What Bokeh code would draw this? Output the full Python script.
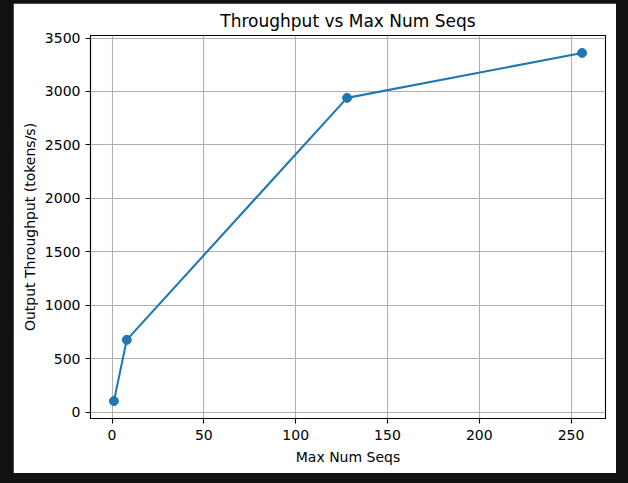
from bokeh.plotting import figure
from bokeh.models import Range1d, FixedTicker, ColumnDataSource, GlobalInlineStyleSheet
from bokeh.embed import file_html
from bokeh.resources import INLINE

# Benchmark results
max_num_seqs = [1, 8, 128, 256]
throughput = [103, 676, 2940, 3361]

x_ticks = [0, 50, 100, 150, 200, 250]
y_ticks = [0, 500, 1000, 1500, 2000, 2500, 3000, 3500]

FONT = "DejaVu Sans"
BLUE = "#1f77b4"

source = ColumnDataSource(data=dict(x=max_num_seqs, y=throughput))

# 5% padding around the data, as in the usual autoscaled view
xpad = 0.05 * (max(max_num_seqs) - min(max_num_seqs))
ypad = 0.05 * (max(throughput) - min(throughput))

p = figure(
    frame_width=515, frame_height=383,
    min_border_left=77, min_border_right=11, min_border_top=32, min_border_bottom=55,
    x_range=Range1d(min(max_num_seqs) - xpad, max(max_num_seqs) + xpad),
    y_range=Range1d(min(throughput) - ypad, max(throughput) + ypad),
    output_backend="svg", toolbar_location=None,
    title="Throughput vs Max Num Seqs",
    background_fill_color="white", border_fill_color="white",
)
p.margin = (3, 12, 10, 13)
p.stylesheets = [GlobalInlineStyleSheet(css="html, body { background-color: #111111; margin: 0; }")]

p.title.align = "center"
p.title.text_font = FONT
p.title.text_font_size = "17px"
p.title.text_font_style = "normal"
p.title.text_color = "black"
p.title.standoff = 9

p.outline_line_color = "black"
p.outline_line_width = 1.1
p.outline_line_alpha = 1.0

for ax in (p.xaxis[0], p.yaxis[0]):
    ax.axis_line_color = "black"
    ax.axis_line_width = 1.1
    ax.major_tick_line_color = "black"
    ax.major_tick_line_width = 1.1
    ax.major_tick_out = 5
    ax.major_tick_in = 0
    ax.minor_tick_line_color = None
    ax.major_label_text_font = FONT
    ax.major_label_text_font_size = "14px"
    ax.major_label_text_color = "black"
    ax.major_label_standoff = 5
    ax.axis_label_text_font = FONT
    ax.axis_label_text_font_size = "14px"
    ax.axis_label_text_font_style = "normal"
    ax.axis_label_text_color = "black"
    ax.axis_label_standoff = 6

p.xaxis.major_label_standoff = 6
p.yaxis.axis_label_standoff = 4

p.xaxis.ticker = FixedTicker(ticks=x_ticks)
p.yaxis.ticker = FixedTicker(ticks=y_ticks)
p.xaxis.axis_label = "Max Num Seqs"
p.yaxis.axis_label = "Output Throughput (tokens/s)"

p.grid.grid_line_color = "#b0b0b0"
p.grid.grid_line_width = 1.1

p.line("x", "y", source=source, line_color=BLUE, line_width=2.1)
p.scatter("x", "y", source=source, size=9, fill_color=BLUE, line_color=BLUE)

open("out.html", "w").write(file_html(p, INLINE))
